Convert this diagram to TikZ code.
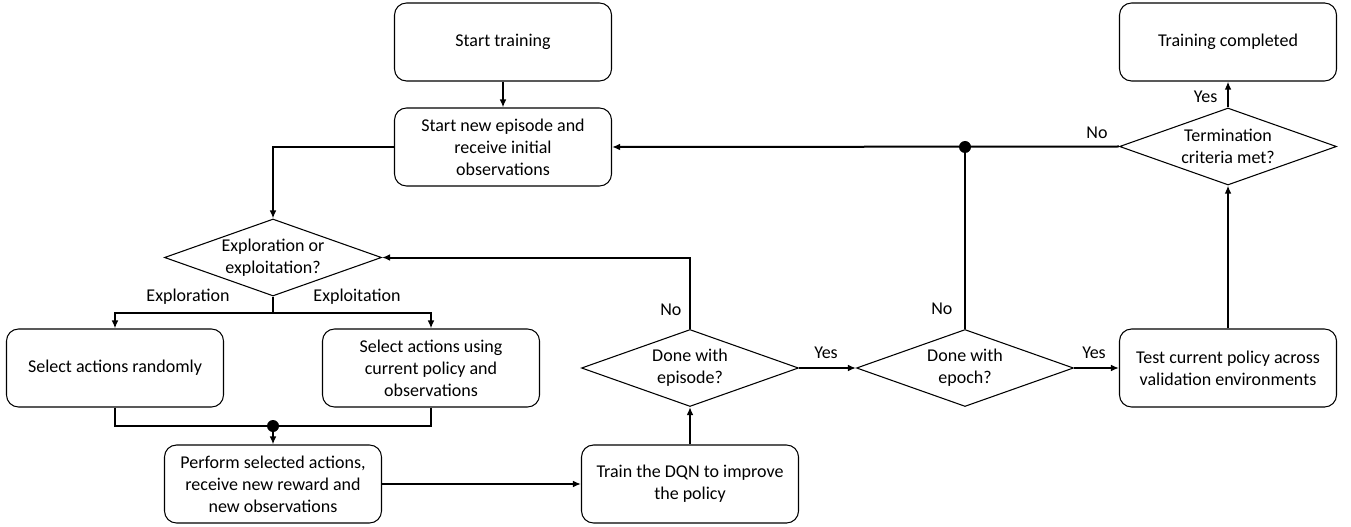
\documentclass[tikz,border=0pt]{standalone}
\usepackage{fontspec}
\setmainfont{Carlito}
\usetikzlibrary{shapes.geometric,arrows.meta}

\tikzset{
	stepbox/.style={draw, rounded corners=9pt, line width=0.8pt, align=center,
		minimum width=162.75pt, minimum height=58.5pt, inner sep=2pt},
	choice/.style={draw, diamond, aspect=2.82, line width=0.8pt, align=center,
		minimum width=162.75pt, minimum height=57.75pt, inner sep=0pt},
	flow/.style={line width=1.5pt, -{Latex[length=6pt,width=5pt]}},
	link/.style={line width=1.5pt},
	tag/.style={inner sep=1pt}
}

\begin{document}
\begin{tikzpicture}[x=0.75pt, y=-0.75pt, font=\fontsize{13.5}{16.5}\selectfont]
		
		\useasboundingbox (0,0) rectangle (1351,527);
		
		% Define the boxes
		\node[stepbox] (start) at (503,42) {Start training};
		\node[stepbox] (newep) at (503,147) {Start new episode and\\receive initial\\observations};
		\node[choice] (explore) at (273,257.5) {Exploration or\\exploitation?};
		\node[stepbox] (random) at (115,368) {Select actions randomly};
		\node[stepbox] (policy) at (431,368) {Select actions using\\current policy and\\observations};
		\node[stepbox] (perform) at (273,484) {Perform selected actions,\\receive new reward and\\new observations};
		\node[stepbox] (train) at (690,484) {Train the DQN to improve\\the policy};
		\node[choice] (episode) at (690,368) {Done with\\episode?};
		\node[choice] (epoch) at (965,368) {Done with\\epoch?};
		\node[stepbox] (test) at (1228,368) {Test current policy across\\validation environments};
		\node[choice] (term) at (1228,146.5) {Termination\\criteria met?};
		\node[stepbox] (done) at (1228,42) {Training completed};
		
		% Define the junctions
		\coordinate (split) at (273,313);
		\coordinate (merge) at (273,426);
		\coordinate (join) at (965,147);
		
		% Draw the main flow
		\draw[flow] (start) -- (newep);
		\draw[flow] (newep.west) -| (explore.north);
		\draw[link] (explore.south) -- (split);
		\draw[flow] (split) -| (random.north);
		\draw[flow] (split) -| (policy.north);
		\draw[link] (random.south) |- (merge);
		\draw[link] (policy.south) |- (merge);
		\draw[flow] (merge) -- (perform.north);
		\draw[flow] (perform) -- (train);
		\draw[flow] (train) -- (episode);
		
		% Draw the decisions
		\draw[flow] (episode.north) |- (explore.east);
		\draw[flow] (episode) -- (epoch);
		\draw[flow] (epoch) -- (test);
		\draw[link] (epoch.north) -- (join);
		\draw[flow] (test) -- (term);
		\draw[flow] (term) -- (done);
		\draw[flow] (term.west) -- (newep.east);
		
		% Draw the dots
		\fill (merge) circle (4.5pt);
		\fill (join) circle (4.5pt);
		
		% Labels on the connectors
		\node[tag] (lexplore) at (188,297) {Exploration};
		\node[tag] (lexploit) at (357,297) {Exploitation};
		\node[tag, anchor=east] (lno1) at (683,310) {No};
		\node[tag] (lyes1) at (826,353) {Yes};
		\node[tag, anchor=east] (lno2) at (954,309) {No};
		\node[tag] (lyes2) at (1094,353) {Yes};
		\node[tag] (lno3) at (1097,133) {No};
		\node[tag, anchor=east] (lyes3) at (1219,97) {Yes};
		
	\end{tikzpicture}
\end{document}
